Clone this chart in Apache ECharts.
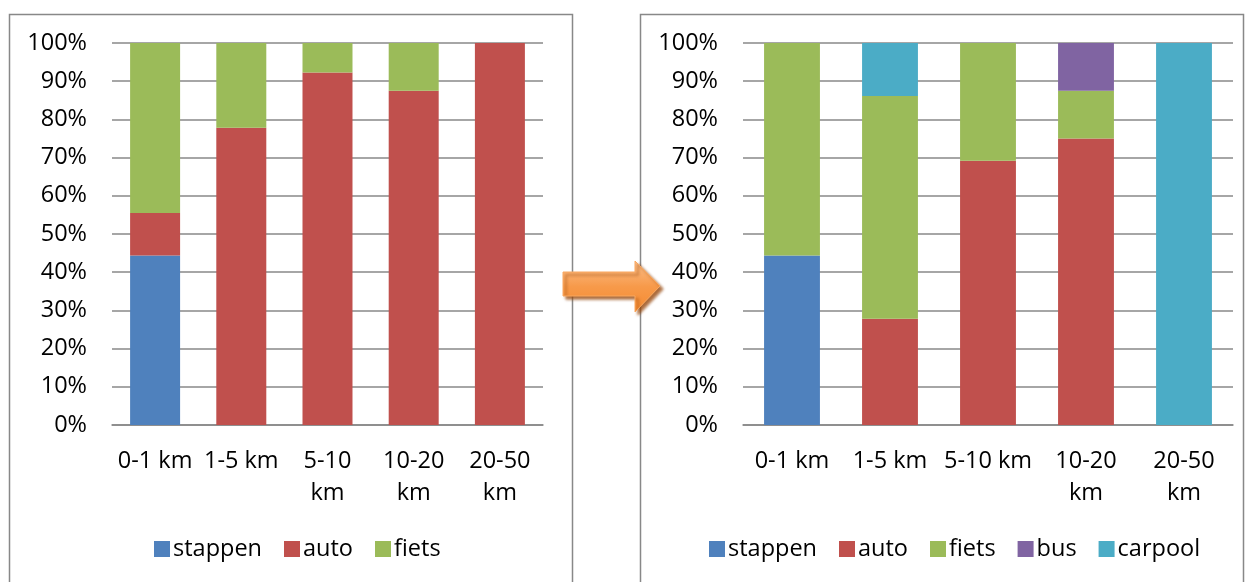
<!DOCTYPE html>
<html><head><meta charset="utf-8">
<script src="https://cdn.jsdelivr.net/npm/echarts@6/dist/echarts.min.js"></script>
<style>html,body{margin:0;padding:0;background:#fff}#c{width:1249px;height:582px}</style>
</head><body><div id="c"></div>
<script>
// Left chart (before)
const leftCategories = ['0-1 km', '1-5 km', '5-10\nkm', '10-20\nkm', '20-50\nkm'];
const leftStappen = [44.4, 0, 0, 0, 0];
const leftAuto = [11.1, 77.8, 92.3, 87.5, 100];
const leftFiets = [44.5, 22.2, 7.7, 12.5, 0];

// Right chart (after)
const rightCategories = ['0-1 km', '1-5 km', '5-10 km', '10-20\nkm', '20-50\nkm'];
const rightStappen = [44.4, 0, 0, 0, 0];
const rightAuto = [0, 27.8, 69.2, 75, 0];
const rightFiets = [55.6, 58.3, 30.8, 12.5, 0];
const rightBus = [0, 0, 0, 12.5, 0];
const rightCarpool = [0, 13.9, 0, 0, 100];

const yTicks = [0, 10, 20, 30, 40, 50, 60, 70, 80, 90, 100];

const colors = {stappen:'#4F81BD', auto:'#C0504D', fiets:'#9BBB59', bus:'#8064A2', carpool:'#4BACC6'};
const FONT = '"Open Sans", sans-serif';
const FS = 23.5;

function yAxis(gi){
  return {type:'value', gridIndex:gi, min:yTicks[0], max:yTicks[yTicks.length-1], interval:10,
    axisLine:{show:false}, axisTick:{show:false},
    axisLabel:{formatter:v=>v+'%', color:'#000', fontFamily:FONT, fontSize:FS, margin:25},
    splitLine:{lineStyle:{color:'#888', width:1.5}}};
}
function xAxis(gi, cats){
  return {type:'category', gridIndex:gi, data:cats,
    axisLine:{lineStyle:{color:'#888', width:1.5}}, axisTick:{show:false},
    axisLabel:{color:'#000', fontFamily:FONT, fontSize:FS, lineHeight:32, margin:20, interval:0}};
}
function bar(name, data, gi, gap){
  return {name, type:'bar', stack:'s'+gi, xAxisIndex:gi, yAxisIndex:gi, data,
    barCategoryGap:gap, itemStyle:{color:colors[name]}};
}

const chart = echarts.init(document.getElementById('c'));
chart.setOption({
  animation:false,
  textStyle:{fontFamily:FONT},
  grid:[
    {left:112, right:706, top:43, bottom:157},
    {left:743, right:16, top:43, bottom:157}
  ],
  xAxis:[xAxis(0, leftCategories), xAxis(1, rightCategories)],
  yAxis:[yAxis(0), yAxis(1)],
  legend:[
    {left:149, top:532, data:['stappen','auto','fiets'], itemWidth:16, itemHeight:16, itemGap:22,
      icon:'rect', textStyle:{fontSize:FS, color:'#000', fontFamily:FONT, padding:[0,0,0,-2]}},
    {left:704, top:532, data:['stappen','auto','fiets','bus','carpool'], itemWidth:16, itemHeight:16, itemGap:22,
      icon:'rect', textStyle:{fontSize:FS, color:'#000', fontFamily:FONT, padding:[0,0,0,-2]}}
  ],
  series:[
    bar('stappen', leftStappen, 0, '42%'),
    bar('auto', leftAuto, 0, '42%'),
    bar('fiets', leftFiets, 0, '42%'),
    bar('stappen', rightStappen, 1, '43%'),
    bar('auto', rightAuto, 1, '43%'),
    bar('fiets', rightFiets, 1, '43%'),
    bar('bus', rightBus, 1, '43%'),
    bar('carpool', rightCarpool, 1, '43%')
  ],
  graphic:[
    {type:'rect', shape:{x:9.5, y:14.5, width:563, height:600}, style:{fill:'none', stroke:'#888', lineWidth:1.5}},
    {type:'rect', shape:{x:640.5, y:14.5, width:603, height:600}, style:{fill:'none', stroke:'#888', lineWidth:1.5}},
    {type:'polygon', z:100,
      shape:{points:[[563,272],[635,272],[635,261],[660,286],[635,312],[635,296],[563,296]]},
      style:{
        fill:new echarts.graphic.LinearGradient(0,0,0,1,[{offset:0,color:'#FBC08C'},{offset:0.5,color:'#F79A4A'},{offset:1,color:'#F58A30'}]),
        stroke:'#F9A860', lineWidth:1,
        shadowBlur:3, shadowOffsetX:3, shadowOffsetY:3, shadowColor:'rgba(150,70,10,0.8)'
      }}
  ]
});
</script></body></html>
